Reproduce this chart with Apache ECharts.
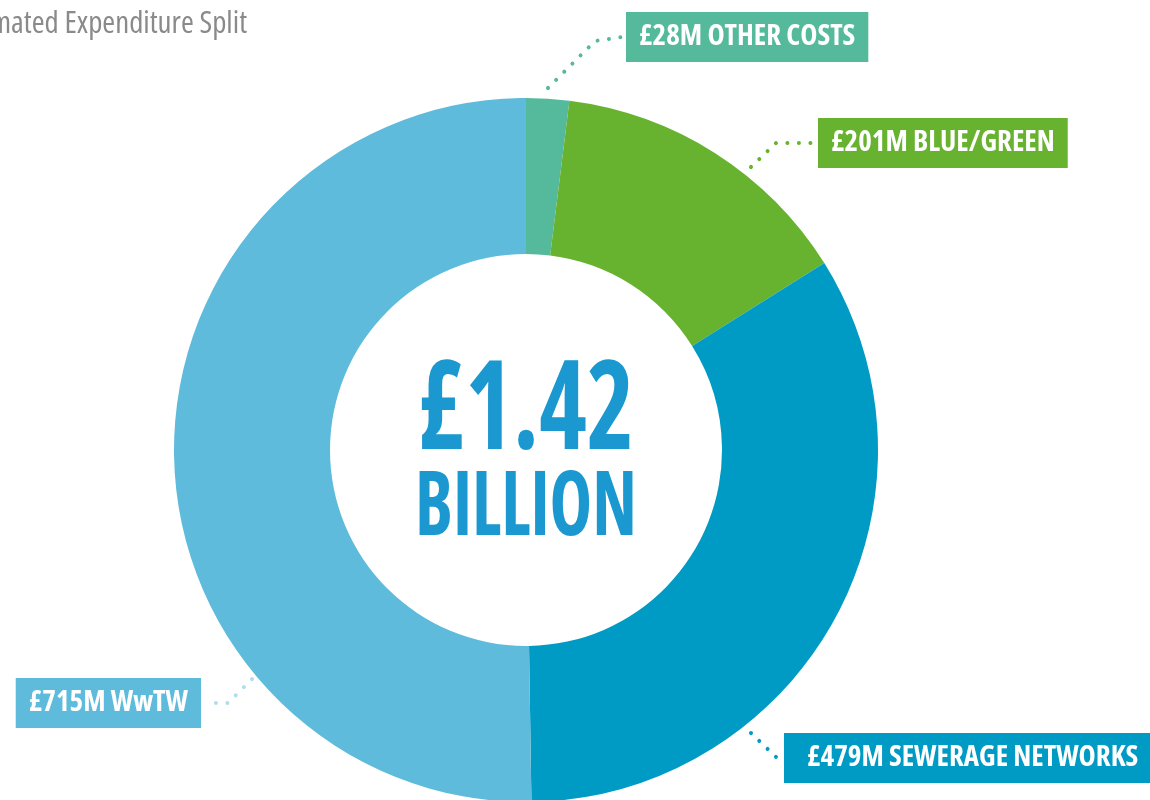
<!DOCTYPE html>
<html>
<head>
<meta charset="utf-8">
<title>Estimated Expenditure Split</title>
<script src="https://cdn.jsdelivr.net/npm/echarts@6/dist/echarts.min.js"></script>
<style>
  html, body { margin: 0; padding: 0; background: #ffffff; }
  #chart { width: 1150px; height: 800px; }
</style>
</head>
<body>
<div id="chart"></div>
<script>
// Expenditure split, £ millions
const categories = ['OTHER COSTS', 'BLUE/GREEN', 'SEWERAGE NETWORKS', 'WwTW'];
const values = [28, 201, 479, 715];
const totalLabel = ['£1.42', 'BILLION'];
const titleText = 'Estimated Expenditure Split';

const sliceColors = ['#55b99c', '#67b22f', '#009bc4', '#5fbbdb'];
const leaderColors = ['#55b99c', '#67b22f', '#009bc4', '#b3dcea'];

// Condensed face via font-stretch in the canvas font shorthand
const FONT = "'Open Sans', 'Roboto Condensed', sans-serif";
const BOLD = 'bold condensed';

// Callout placement: box corner and leader path (start, elbow)
const callouts = [
  { box: [626, 12], align: 'left', start: [548, 88], elbow: [595, 41] },
  { box: [818, 118], align: 'left', start: [751, 167], elbow: [776, 143] },
  { box: [784, 733], align: 'left', start: [751, 733], elbow: [776, 757] },
  { box: [201, 678], align: 'right', start: [252, 679], elbow: [228, 703] }
];

const chart = echarts.init(document.getElementById('chart'), null, { renderer: 'canvas' });

const seriesData = categories.map((name, i) => ({
  name: name,
  value: values[i],
  itemStyle: { color: sliceColors[i] },
  label: {
    backgroundColor: sliceColors[i],
    padding: i === 2 ? [0, 13, 0, 23] : [0, 13, 0, 13]
  },
  labelLine: { lineStyle: { color: leaderColors[i] } }
}));

chart.setOption({
  animation: false,
  graphic: [
    {
      type: 'text',
      x: 247,
      y: 24,
      style: {
        text: titleText,
        fontFamily: FONT,
        fontWeight: 'normal condensed',
        fontSize: 31,
        fill: '#8a8a8a',
        align: 'right',
        verticalAlign: 'middle'
      }
    },
    {
      type: 'text',
      x: 526,
      y: 414,
      scaleX: 0.82,
      style: {
        text: totalLabel[0],
        fontFamily: FONT,
        fontWeight: BOLD,
        fontSize: 124,
        fill: '#1b98d0',
        align: 'center',
        verticalAlign: 'middle'
      }
    },
    {
      type: 'text',
      x: 526,
      y: 509,
      scaleX: 0.8,
      style: {
        text: totalLabel[1],
        fontFamily: FONT,
        fontWeight: BOLD,
        fontSize: 90,
        fill: '#1b98d0',
        align: 'center',
        verticalAlign: 'middle'
      }
    }
  ],
  series: [{
    type: 'pie',
    center: [526, 450],
    radius: [196, 352],
    startAngle: 90,
    clockwise: true,
    avoidLabelOverlap: false,
    data: seriesData,
    label: {
      show: true,
      position: 'outside',
      formatter: (p) => '£' + p.value + 'M ' + p.name,
      fontFamily: FONT,
      fontWeight: BOLD,
      fontSize: 29,
      color: '#ffffff',
      lineHeight: 50,
      height: 50
    },
    labelLine: {
      show: true,
      length: 20,
      length2: 20,
      lineStyle: { width: 4, type: [0.01, 11.5], cap: 'round' }
    },
    labelLayout: (params) => {
      const c = callouts[params.dataIndex];
      const r = params.labelRect;
      const endX = c.align === 'left' ? c.box[0] - 4 : c.box[0] + 4;
      const endY = c.box[1] + r.height / 2;
      return {
        x: c.box[0],
        y: c.box[1],
        align: c.align,
        verticalAlign: 'top',
        labelLinePoints: [c.start, c.elbow, [endX, endY]]
      };
    },
    emphasis: { disabled: true }
  }]
});
</script>
</body>
</html>
